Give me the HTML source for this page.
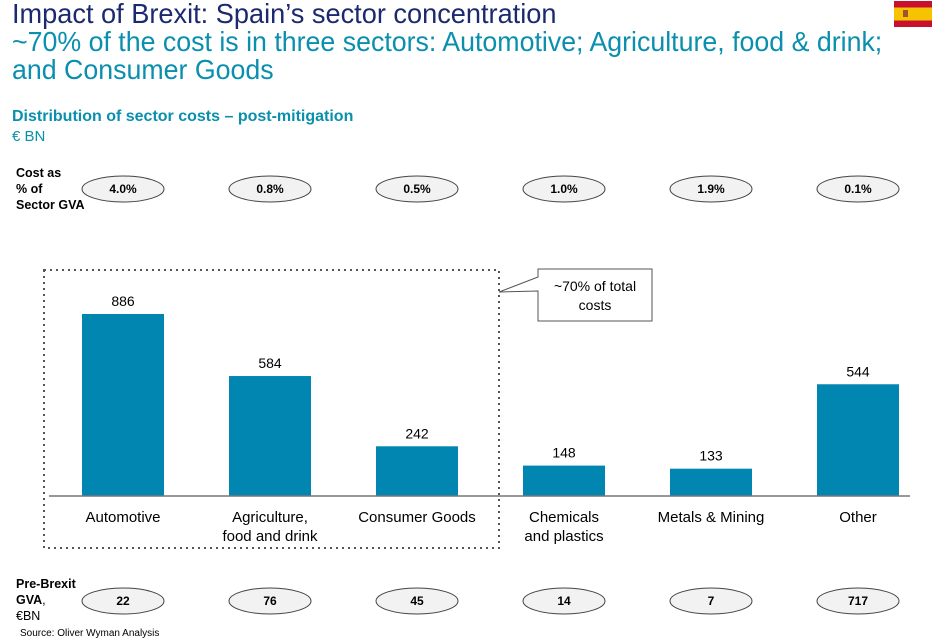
<!DOCTYPE html>
<html><head><meta charset="utf-8"><style>
body{margin:0;width:947px;height:644px;background:#fff;font-family:"Liberation Sans",Arial,sans-serif;overflow:hidden;position:relative}
.t{position:absolute;white-space:nowrap}
</style></head><body>
<div class="t" style="left:12px;top:-2px;font-size:28px;line-height:32px;color:#1b2a6e;transform:scaleX(0.97);transform-origin:left top">Impact of Brexit: Spain’s sector concentration</div>
<div class="t" style="left:12px;top:28px;font-size:28px;line-height:28px;color:#0a8fae;transform:scaleX(0.955);transform-origin:left top">~70% of the cost is in three sectors: Automotive; Agriculture, food &amp; drink;<br>and Consumer Goods</div>
<div class="t" style="left:12px;top:108px;font-size:16px;font-weight:bold;color:#0a8fae">Distribution of sector costs – post-mitigation</div>
<div class="t" style="left:12px;top:128px;font-size:15px;color:#0a8fae">€ BN</div>
<svg style="position:absolute;left:894px;top:1px" width="38" height="26"><rect width="38" height="26" fill="#c8102e"/><rect y="6.5" width="38" height="13" fill="#f6c300"/><rect x="9" y="9" width="5" height="7" fill="#a0522d"/></svg>
<div class="t" style="left:16px;top:165px;font-size:12.5px;font-weight:bold;line-height:16px">Cost as<br>% of<br>Sector GVA</div>
<div class="t" style="left:16px;top:576px;font-size:12.5px;line-height:16px"><b>Pre-Brexit<br>GVA</b>,<br>€BN</div>
<div class="t" style="left:20px;top:628px;font-size:10px">Source: Oliver Wyman Analysis</div>
<svg id="chart" style="position:absolute;left:0;top:0" width="947" height="644"></svg>
<script>
const categories=["Automotive","Agriculture,|food and drink","Consumer Goods","Chemicals|and plastics","Metals & Mining","Other"];
const costs=[886,584,242,148,133,544];
const costPct=["4.0%","0.8%","0.5%","1.0%","1.9%","0.1%"];
const gva=["22","76","45","14","7","717"];
const svg=document.getElementById('chart');const NS='http://www.w3.org/2000/svg';
function mk(t,a,p){const e=document.createElementNS(NS,t);for(const k in a)e.setAttribute(k,a[k]);(p||svg).appendChild(e);return e;}
const base=496,scale=182/886;
function x(i){return 123+i*147;}
function y(v){return base-v*scale;}
let b=mk('rect',{x:44,y:270,width:455,height:278,fill:'none',stroke:'#555','stroke-width':2,'stroke-dasharray':'2,4'});


categories.forEach((c,i)=>{
 const r=mk('rect',{x:x(i)-41,y:y(costs[i]),width:82,height:base-y(costs[i]),fill:'#0086b0'});
 
 
 const v=mk('text',{x:x(i),y:y(costs[i])-8,'text-anchor':'middle','font-size':14});v.textContent=costs[i];
 
 
 c.split('|').forEach((ln,j)=>{const t=mk('text',{x:x(i),y:522+j*19,'text-anchor':'middle','font-size':15});t.textContent=ln;
  
  });
 [[189,costPct[i]],[601,gva[i]]].forEach(([cy,txt])=>{
  const e=mk('ellipse',{cx:x(i),cy:cy,rx:41,ry:13,fill:'#f2f2f2',stroke:'#444','stroke-width':1});
  
  
  const t=mk('text',{x:x(i),y:cy+4,'text-anchor':'middle','font-size':12,'font-weight':'bold'});t.textContent=txt;
  
  
 });
});
const ax=mk('line',{x1:49,x2:910,y1:base,y2:base,stroke:'#777','stroke-width':1.5});


const co=mk('path',{d:'M538,269 H652 V321 H538 V291 L499,292 L538,277 Z',fill:'#fff',stroke:'#555','stroke-width':1});


['~70% of total','costs'].forEach((s,j)=>{const t=mk('text',{x:595,y:291+j*19,'text-anchor':'middle','font-size':14});t.textContent=s;
 
 });
</script>
</body></html>
